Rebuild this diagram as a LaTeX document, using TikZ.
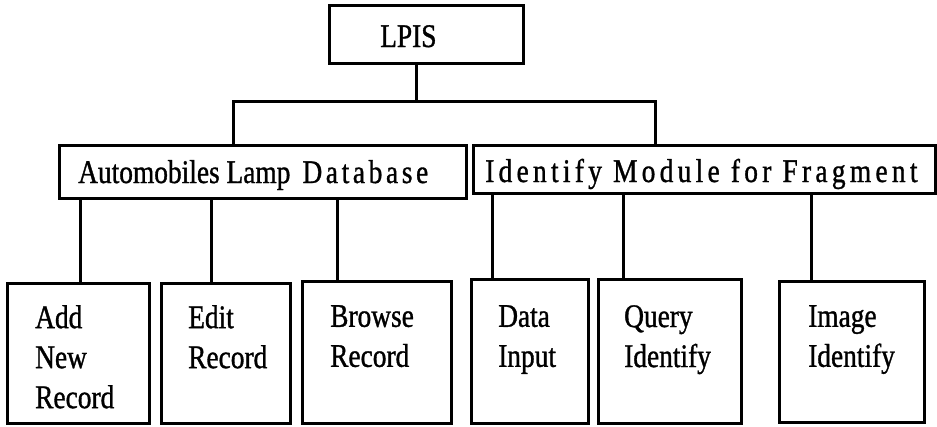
\documentclass[tikz,border=0pt]{standalone}
\usepackage{fontspec}
\newfontfamily\boxfont[FakeStretch=0.83,FakeBold=1]{Liberation Serif}
\begin{document}
\begin{tikzpicture}[x=1pt,y=-1pt,
  box/.style={draw, line width=3pt, inner sep=0pt},
  link/.style={line width=3pt},
  lbl/.style={inner sep=0pt, font=\boxfont\fontsize{33}{40}\selectfont},
  lbltop/.style={lbl, anchor=base west},
  lblmulti/.style={lbl, anchor=north west, align=left}]
\useasboundingbox (0,0) rectangle (937,426);

% root
\node[box, minimum width=194pt, minimum height=58pt] (lpis) at (426,34) {};
\node[lbltop] (tlpis) at (380,47) {LPIS};

% second level
\node[box, minimum width=407pt, minimum height=53pt] (db) at (262.5,171.5) {};
\node[lbltop] (tdb) at (78,183) {Automobiles Lamp\hspace{12pt}{\addfontfeatures{LetterSpace=11}Database}};
\node[box, minimum width=462pt, minimum height=48pt] (idm) at (704,169) {};
\node[lbltop] (tidm) at (485,182) {\addfontfeatures{LetterSpace=13}Identify Module for Fragment};

% leaves
\node[box, minimum width=142pt, minimum height=140pt] (add) at (78,353) {};
\node[box, minimum width=129pt, minimum height=140pt] (edit) at (225.5,353) {};
\node[box, minimum width=149pt, minimum height=142pt] (browse) at (376.5,352) {};
\node[box, minimum width=117pt, minimum height=144pt] (data) at (529.5,351) {};
\node[box, minimum width=143pt, minimum height=144pt] (query) at (669.5,351) {};
\node[box, minimum width=145pt, minimum height=141pt] (image) at (851.5,351.5) {};

\node[lblmulti] (tadd) at (35,305) {Add\\New\\Record};
\node[lblmulti] (tedit) at (188,305) {Edit\\Record};
\node[lblmulti] (tbrowse) at (330,305) {Browse\\Record};
\node[lblmulti] (tdata) at (498,305) {Data\\Input};
\node[lblmulti] (tquery) at (624,305) {Query\\Identify};
\node[lblmulti] (timage) at (808,305) {Image\\Identify};

% stem positions
\coordinate (sroot) at (416,0);
\coordinate (bus) at (0,101);
\coordinate (sdb) at (233,0);
\coordinate (sidm) at (655,0);
\coordinate (s1) at (80,0);
\coordinate (s2) at (211,0);
\coordinate (s3) at (337,0);
\coordinate (s4) at (492,0);
\coordinate (s5) at (623,0);
\coordinate (s6) at (811,0);

% connectors
\draw[link] (lpis.south -| sroot) -- (bus -| sroot);
\draw[link] (db.north -| sdb) -- (bus -| sdb) -- (bus -| sidm) -- (idm.north -| sidm);
\draw[link] (db.south -| s1) -- (add.north -| s1);
\draw[link] (db.south -| s2) -- (edit.north -| s2);
\draw[link] (db.south -| s3) -- (browse.north -| s3);
\draw[link] (idm.south -| s4) -- (data.north -| s4);
\draw[link] (idm.south -| s5) -- (query.north -| s5);
\draw[link] (idm.south -| s6) -- (image.north -| s6);
\end{tikzpicture}
\end{document}
